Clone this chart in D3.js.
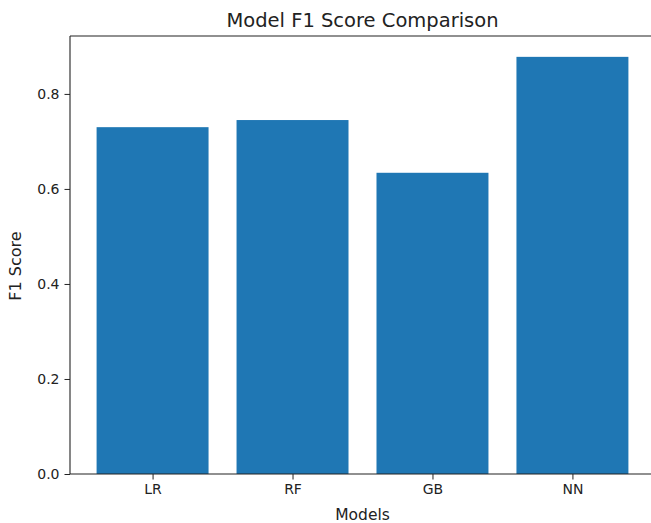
<!DOCTYPE html>
<html>
<head>
<meta charset="utf-8">
<script src="https://cdn.jsdelivr.net/npm/d3@7"></script>
<style>
  html, body { margin: 0; padding: 0; background: #fff; }
  svg { display: block; font-family: "DejaVu Sans", sans-serif; }
</style>
</head>
<body>
<svg id="chart" width="651" height="523"></svg>
<script>
// Model names and their F1 scores
const models = ["LR", "RF", "GB", "NN"];
const f1Scores = [0.730, 0.745, 0.634, 0.878];
const yTicks = [0.0, 0.2, 0.4, 0.6, 0.8];

const svg = d3.select("#chart");
const plot = { left: 70, right: 655, top: 36, bottom: 474 };

// Band positions like a bar plot: bars 0.8 wide, with 5% padding on each side
const barW = 0.8;
const span = (models.length - 1) + barW;
const pad = 0.05 * span;
const x = d3.scaleLinear()
  .domain([-barW / 2 - pad, models.length - 1 + barW / 2 + pad])
  .range([plot.left, plot.right]);

const yMax = d3.max(f1Scores) * 1.05;
const y = d3.scaleLinear().domain([0, yMax]).range([plot.bottom, plot.top]);

// Bars
svg.append("g")
  .selectAll("rect")
  .data(models)
  .join("rect")
  .attr("x", (d, i) => x(i - barW / 2))
  .attr("width", (d, i) => x(i + barW / 2) - x(i - barW / 2))
  .attr("y", (d, i) => y(f1Scores[i]))
  .attr("height", (d, i) => y(0) - y(f1Scores[i]))
  .attr("fill", "#1f77b4");

// Axes
const xAxis = d3.axisBottom(x)
  .tickValues(d3.range(models.length))
  .tickFormat(i => models[i])
  .tickSize(5.5)
  .tickPadding(5);
const yAxis = d3.axisLeft(y)
  .tickValues(yTicks)
  .tickFormat(d3.format(".1f"))
  .tickSize(5.5)
  .tickPadding(5);

const gx = svg.append("g")
  .attr("transform", `translate(0,${plot.bottom})`)
  .call(xAxis);
const gy = svg.append("g")
  .attr("transform", `translate(${plot.left},0)`)
  .call(yAxis);

[gx, gy].forEach(g => {
  g.select(".domain").remove();
  g.selectAll(".tick line").attr("stroke", "#222").attr("stroke-width", 1);
  g.selectAll(".tick text")
    .attr("fill", "#222")
    .style("font-family", "'DejaVu Sans', sans-serif")
    .style("font-size", "14px");
});

// Frame of the plotting area
const frame = svg.append("g")
  .attr("stroke", "#222")
  .attr("stroke-width", 1.1)
  .attr("fill", "none");
frame.append("line").attr("x1", plot.left).attr("x2", plot.left).attr("y1", plot.top).attr("y2", plot.bottom);
frame.append("line").attr("x1", plot.left).attr("x2", plot.right).attr("y1", plot.bottom).attr("y2", plot.bottom);
frame.append("line").attr("x1", plot.left).attr("x2", plot.right).attr("y1", plot.top).attr("y2", plot.top);
frame.append("line").attr("x1", plot.right).attr("x2", plot.right).attr("y1", plot.top).attr("y2", plot.bottom);

// Title and axis labels
svg.append("text")
  .attr("x", (plot.left + plot.right) / 2)
  .attr("y", 27)
  .attr("text-anchor", "middle")
  .attr("fill", "#222")
  .style("font-size", "19.5px")
  .text("Model F1 Score Comparison");

svg.append("text")
  .attr("x", (plot.left + plot.right) / 2)
  .attr("y", 520)
  .attr("text-anchor", "middle")
  .attr("fill", "#222")
  .style("font-size", "15.5px")
  .text("Models");

svg.append("text")
  .attr("transform", "translate(21,266) rotate(-90)")
  .attr("text-anchor", "middle")
  .attr("fill", "#222")
  .style("font-size", "16px")
  .text("F1 Score");
</script>
</body>
</html>
